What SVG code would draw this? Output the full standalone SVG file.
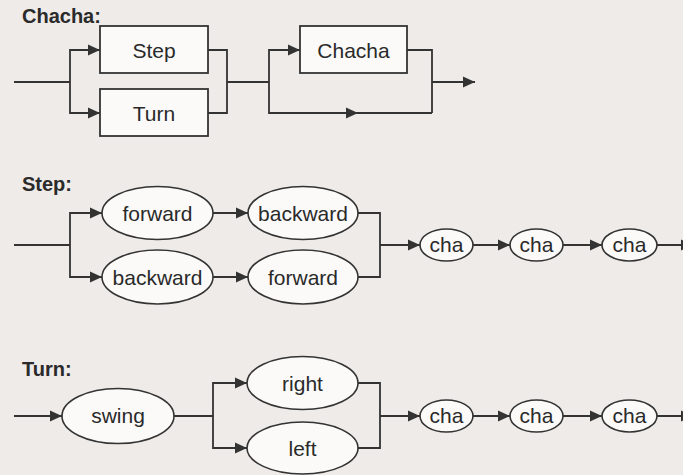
<svg xmlns="http://www.w3.org/2000/svg" width="683" height="475" viewBox="0 0 683 475">
<defs>
<marker id="arr" markerUnits="userSpaceOnUse" markerWidth="12" markerHeight="12" refX="12" refY="6" orient="auto" viewBox="0 0 12 12">
<path d="M0,0.5 L12,6 L0,11.5 z" fill="#333"/>
</marker>
<style>
.bg{fill:#efebe9}
.box{fill:#fbfaf9;stroke:#333;stroke-width:1.8}
.ell{fill:#fbfaf9;stroke:#333;stroke-width:1.6}
.ln{fill:none;stroke:#333;stroke-width:1.8}
.a{marker-end:url(#arr)}
.t{font-family:"Liberation Sans",Arial,Helvetica,sans-serif;font-size:21px;fill:#2a2a2a;text-anchor:middle}
.h{font-family:"Liberation Sans",Arial,Helvetica,sans-serif;font-size:20px;font-weight:bold;fill:#2a2a2a}
</style>
</defs>
<rect class="bg" x="0" y="0" width="683" height="475"/>

<g id="titles">
<text class="h" x="22" y="23">Chacha:</text>
<text class="h" x="22" y="191">Step:</text>
<text class="h" x="22" y="376">Turn:</text>
</g>

<g id="connectors">
<!-- Chacha -->
<path class="ln" d="M14,82 H70"/>
<path class="ln a" d="M70,82 V50 H100"/>
<path class="ln a" d="M70,82 V113 H100"/>
<path class="ln" d="M208,50 H227 V113 H208"/>
<path class="ln" d="M227,82 H269"/>
<path class="ln a" d="M269,82 V50 H300"/>
<path class="ln a" d="M269,82 V113 H358"/>
<path class="ln" d="M358,113 H432"/>
<path class="ln" d="M407,50 H432 V113"/>
<path class="ln a" d="M432,82 H475"/>
<!-- Step -->
<path class="ln" d="M14,245 H70"/>
<path class="ln a" d="M70,245 V213 H102"/>
<path class="ln a" d="M70,245 V277 H102"/>
<path class="ln a" d="M213,213 H248"/>
<path class="ln a" d="M213,277 H248"/>
<path class="ln" d="M358,213 H380 V277 H358"/>
<path class="ln a" d="M380,245 H420"/>
<path class="ln a" d="M473,245 H510"/>
<path class="ln a" d="M563,245 H602"/>
<path class="ln a" d="M657,245 H693"/>
<!-- Turn -->
<path class="ln a" d="M14,416 H62"/>
<path class="ln" d="M174,416 H213"/>
<path class="ln a" d="M213,416 V383 H247"/>
<path class="ln a" d="M213,416 V448 H247"/>
<path class="ln" d="M358,383 H380 V448 H358"/>
<path class="ln a" d="M380,416 H420"/>
<path class="ln a" d="M473,416 H510"/>
<path class="ln a" d="M563,416 H602"/>
<path class="ln a" d="M657,416 H693"/>
</g>

<g id="box-step"><rect class="box" x="100" y="26" width="108" height="47"/><text class="t" x="154" y="58">Step</text></g>
<g id="box-turn"><rect class="box" x="100" y="89" width="108" height="47"/><text class="t" x="154" y="121">Turn</text></g>
<g id="box-chacha"><rect class="box" x="300" y="26" width="107" height="47"/><text class="t" x="353.5" y="58">Chacha</text></g>

<g id="step-forward1"><ellipse class="ell" cx="157.5" cy="213" rx="55.5" ry="26.5"/><text class="t" x="157.5" y="221">forward</text></g>
<g id="step-backward1"><ellipse class="ell" cx="157.5" cy="277" rx="55.5" ry="27"/><text class="t" x="157.5" y="285">backward</text></g>
<g id="step-backward2"><ellipse class="ell" cx="303" cy="213" rx="55" ry="26.5"/><text class="t" x="303" y="221">backward</text></g>
<g id="step-forward2"><ellipse class="ell" cx="303" cy="277" rx="55" ry="27"/><text class="t" x="303" y="285">forward</text></g>
<g id="step-cha1"><ellipse class="ell" cx="446.5" cy="245" rx="26.5" ry="16"/><text class="t" x="446.5" y="252">cha</text></g>
<g id="step-cha2"><ellipse class="ell" cx="536.5" cy="245" rx="26.5" ry="16"/><text class="t" x="536.5" y="252">cha</text></g>
<g id="step-cha3"><ellipse class="ell" cx="629.5" cy="245" rx="27.5" ry="16"/><text class="t" x="629.5" y="252">cha</text></g>

<g id="turn-swing"><ellipse class="ell" cx="118" cy="416" rx="56" ry="27.5"/><text class="t" x="118" y="423">swing</text></g>
<g id="turn-right"><ellipse class="ell" cx="302.5" cy="383" rx="55.5" ry="26.5"/><text class="t" x="302.5" y="391">right</text></g>
<g id="turn-left"><ellipse class="ell" cx="302.5" cy="448" rx="55.5" ry="26"/><text class="t" x="302.5" y="456">left</text></g>
<g id="turn-cha1"><ellipse class="ell" cx="446.5" cy="416" rx="26.5" ry="16"/><text class="t" x="446.5" y="423">cha</text></g>
<g id="turn-cha2"><ellipse class="ell" cx="536.5" cy="416" rx="26.5" ry="16"/><text class="t" x="536.5" y="423">cha</text></g>
<g id="turn-cha3"><ellipse class="ell" cx="629.5" cy="416" rx="27.5" ry="16"/><text class="t" x="629.5" y="423">cha</text></g>
</svg>
